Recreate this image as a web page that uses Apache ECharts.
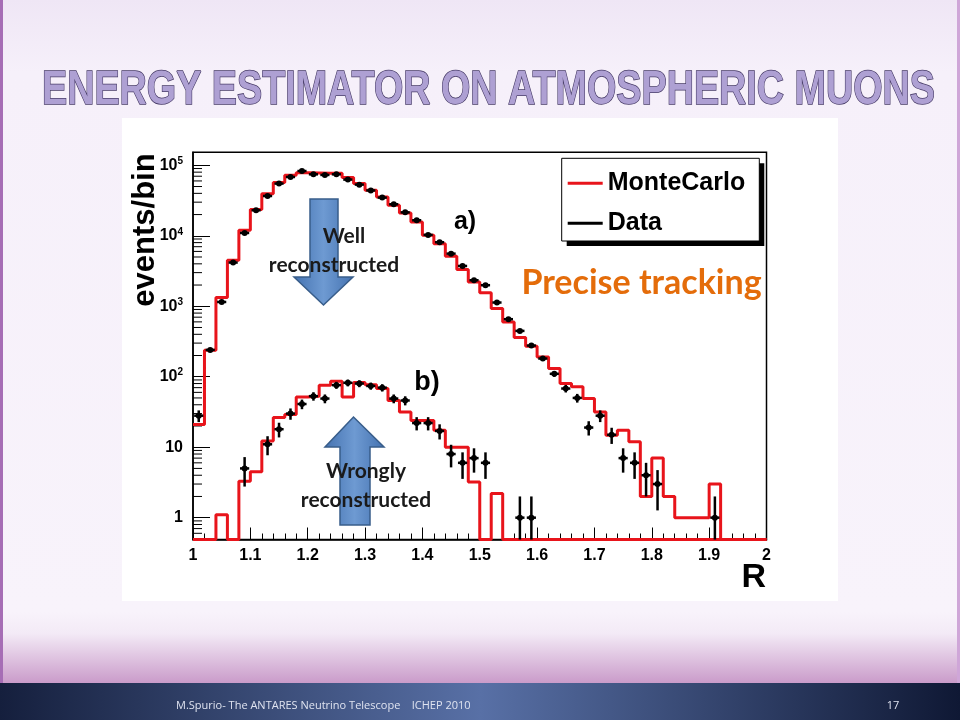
<!DOCTYPE html>
<html>
<head>
<meta charset="utf-8">
<script src="https://cdn.jsdelivr.net/npm/echarts@6/dist/echarts.min.js"></script>
<style>
html,body{margin:0;padding:0;background:#f5eff9;}
#chart{width:960px;height:720px;}
</style>
</head>
<body>
<div id="chart"></div>
<script>
// ---- data ----
const rLow = [1.00,1.02,1.04,1.06,1.08,1.10,1.12,1.14,1.16,1.18,
              1.20,1.22,1.24,1.26,1.28,1.30,1.32,1.34,1.36,1.38,
              1.40,1.42,1.44,1.46,1.48,1.50,1.52,1.54,1.56,1.58,
              1.60,1.62,1.64,1.66,1.68,1.70,1.72,1.74,1.76,1.78,
              1.80,1.82,1.84,1.86,1.88,1.90,1.92,1.94,1.96,1.98];
const R_MAX = 2.0;
const BIN_HALF = 0.01;
// a) well reconstructed
const mcA = [21,238,1330,4490,11970,23540,39650,56900,72100,78700,
             78000,77000,77000,66900,55000,44200,35500,27100,21000,15700,
             10200,7740,5110,3310,2210,1560,927,599,360,271,
             191,131,80,72,49,31.6,14.8,17.4,11.9,2,
             7,2,1,1,1,3,0,0,0,0];
const dataA = [28,240,1150,4170,10970,23000,36700,55000,68300,83000,
               74500,73000,74500,62700,53200,44000,34800,28000,21500,16600,
               10300,8100,5580,3730,2340,1990,1130,655,447,277,
               181,110,68,50,19,28,15,7,6,4,
               3,0,0,0,0,1,0,0,0,0];
// b) wrongly reconstructed
const mcB = [0,0,1.1,0,3.3,4.5,12.2,26.4,29,51.6,
             52.8,75.7,86,51.6,82.7,77,68,46,31.7,24,
             24,17.4,10,10,3.2,0,2.2,0,0,0,
             0,0,0,0,0,0,0,0,0,0,
             0,0,0,0,0,0,0,0,0,0];
const dataB = [0,0,0,0,5,0,11,18,30,41,
               53,49,76,82,80,74,70,49,46,22,
               22,17,8,6,7,6,0,0,1,1,
               0,0,0,0,0,0,0,0,0,0,
               0,0,0,0,0,0,0,0,0,0];
const xTicks = ['1','1.1','1.2','1.3','1.4','1.5','1.6','1.7','1.8','1.9','2'];
const Y_MIN = 0.49, Y_MAX = 153000;
const TITLE = 'ENERGY ESTIMATOR ON ATMOSPHERIC MUONS';

// ---- helpers ----
function histLine(vals){
  const pts = vals.map((v,i)=>[rLow[i], v>0 ? v : Y_MIN]);
  const last = vals[vals.length-1];
  pts.push([R_MAX, last>0 ? last : Y_MIN]);
  return pts;
}
function points(vals){
  const out=[];
  vals.forEach((v,i)=>{ if(v>0) out.push([rLow[i]+BIN_HALF, v]); });
  return out;
}
const minorVals=[];
for(let e=-1;e<=5;e++){ for(let m=2;m<=9;m++){ const v=m*Math.pow(10,e); if(v>Y_MIN && v<Y_MAX) minorVals.push([1,v]); } }

function renderData(params, api){
  const c = api.value(0), n = api.value(1);
  const e = Math.sqrt(n);
  const lo = Math.max(n - e, Y_MIN);
  const pm = api.coord([c, n]);
  const pt = api.coord([c, n + e]);
  const pb = api.coord([c, lo]);
  const pl = api.coord([c - 0.008, n]);
  const pr = api.coord([c + 0.008, n]);
  return {type:'group', children:[
    {type:'line', shape:{x1:pm[0],y1:pt[1],x2:pm[0],y2:pb[1]}, style:{stroke:'#000',lineWidth:2.5}},
    {type:'line', shape:{x1:pl[0],y1:pm[1],x2:pr[0],y2:pm[1]}, style:{stroke:'#000',lineWidth:2.5}},
    {type:'circle', shape:{cx:pm[0],cy:pm[1],r:3}, style:{fill:'#000'}}
  ]};
}
function renderMinor(params, api){
  const p = api.coord([api.value(0), api.value(1)]);
  return {type:'line', shape:{x1:p[0],y1:p[1],x2:p[0]+9,y2:p[1]}, style:{stroke:'#000',lineWidth:1}};
}

// title horizontal compression to match the condensed slide font
const TITLE_FONT = "bold 48px 'Liberation Sans', Arial, sans-serif";
const mctx = document.createElement('canvas').getContext('2d');
mctx.font = TITLE_FONT;
const titleScale = 893 / mctx.measureText(TITLE).width;

const RED = '#e8141b';
const F = "'Liberation Sans', Arial, sans-serif";
const chart = echarts.init(document.getElementById('chart'));
const arrowFill = {type:'linear',x:0,y:0,x2:1,y2:0,colorStops:[{offset:0,color:'#4472b0'},{offset:0.5,color:'#6e9ad2'},{offset:1,color:'#4472b0'}]};
const CAL = "Lato, 'Open Sans', sans-serif";

chart.setOption({
  backgroundColor:'#f5eff9',
  animation:false,
  grid:{left:193,right:193.5,top:152.3,bottom:180.5,show:true,borderColor:'#000',borderWidth:1.5,backgroundColor:'#fff',outerBoundsMode:'none'},
  legend:{
    left:561.7, top:158.3, orient:'vertical', selectedMode:false, z:5,
    padding:[12,9,7,6], itemGap:14, itemWidth:35, itemHeight:3,
    textStyle:{fontFamily:F,fontWeight:'bold',fontSize:25,color:'#000',lineHeight:26},
    data:[{name:'MonteCarlo',icon:'rect'},{name:'Data',icon:'rect'}]
  },
  xAxis:{
    type:'value', min:1, max:2, interval:0.1,
    axisLine:{show:true,lineStyle:{color:'#000',width:1.5}},
    axisTick:{show:true,inside:true,length:12,lineStyle:{color:'#000',width:1}},
    minorTick:{show:true,splitNumber:5,length:6,lineStyle:{color:'#000',width:1}},
    splitLine:{show:false},
    axisLabel:{color:'#000',fontFamily:F,fontWeight:'bold',fontSize:16,margin:8,
      formatter:(v)=>xTicks[Math.round((v-1)*10)] || ''}
  },
  yAxis:{
    type:'log', logBase:10, min:Y_MIN, max:Y_MAX,
    axisLine:{show:true,lineStyle:{color:'#000',width:1.5}},
    axisTick:{show:true,inside:true,length:17,lineStyle:{color:'#000',width:1}},
    splitLine:{show:false},
    axisLabel:{showMinLabel:false,showMaxLabel:false,margin:10,color:'#000',
      formatter:function(v){
        const n=Math.round(Math.log10(v));
        if(Math.abs(v-Math.pow(10,n))/v>1e-6) return '';
        if(n===0) return '{b|1}';
        if(n===1) return '{b|10}';
        return '{b|10}{s|'+n+'}';
      },
      rich:{b:{fontFamily:F,fontWeight:'bold',fontSize:16,color:'#000',lineHeight:18},
            s:{fontFamily:F,fontWeight:'bold',fontSize:10,color:'#000',verticalAlign:'top',lineHeight:18,padding:[0,0,8,0]}}
    }
  },
  series:[
    {name:'minor',type:'custom',silent:true,renderItem:renderMinor,data:minorVals,z:3},
    {name:'MonteCarlo',type:'line',step:'end',data:histLine(mcA),showSymbol:false,symbol:'none',clip:false,
      lineStyle:{color:RED,width:3},itemStyle:{color:RED},z:4},
    {name:'MonteCarlo',type:'line',step:'end',data:histLine(mcB),showSymbol:false,symbol:'none',clip:false,
      lineStyle:{color:RED,width:3},itemStyle:{color:RED},z:4},
    {name:'Data',type:'custom',renderItem:renderData,data:points(dataA),itemStyle:{color:'#000'},z:5},
    {name:'Data',type:'custom',renderItem:renderData,data:points(dataB),itemStyle:{color:'#000'},z:5}
  ],
  graphic:[
    // slide decoration
    {type:'rect',z:-20,shape:{x:0,y:0,width:960,height:720},style:{fill:{type:'linear',x:0,y:0,x2:0,y2:1,colorStops:[{offset:0,color:'#efe6f5'},{offset:0.1,color:'#f6f0fa'},{offset:0.85,color:'#f8f3fb'},{offset:0.88,color:'#f3eaf6'},{offset:0.95,color:'#c99ac9'},{offset:1,color:'#c48cc3'}]}}},
    {type:'rect',z:-19,shape:{x:0,y:0,width:3,height:683},style:{fill:'#a66db5'}},
    {type:'rect',z:-19,shape:{x:957,y:0,width:3,height:683},style:{fill:'#cfa6d8'}},
    {type:'rect',z:-19,shape:{x:0,y:683,width:960,height:37},style:{fill:{type:'linear',x:0,y:0,x2:1,y2:0,colorStops:[{offset:0,color:'#151f3d'},{offset:0.5,color:'#5870a6'},{offset:1,color:'#0f1834'}]}}},
    {type:'rect',z:-18,shape:{x:122,y:118,width:716,height:483},style:{fill:'#ffffff'}},
    {type:'text',z:10,x:176,y:706,style:{text:'M.Spurio- The ANTARES Neutrino Telescope    ICHEP 2010',font:"11px 'Open Sans', sans-serif",fill:'#dfe3f0',verticalAlign:'middle'}},
    {type:'text',z:10,x:893,y:706,style:{text:'17',font:"11px 'Open Sans', sans-serif",fill:'#dfe3f0',align:'center',verticalAlign:'middle'}},
    // title
    {type:'text',z:10,x:488.5,y:91,scaleX:titleScale,style:{text:TITLE,font:TITLE_FONT,fill:'#ae a0d3'.replace(' ',''),stroke:'#463a66',lineWidth:1.5,align:'center',verticalAlign:'middle'}},
    // legend frame with ROOT-style shadow
    {type:'rect',z:3,shape:{x:566.7,y:163.3,width:197.6,height:82.7},style:{fill:'#000'}},
    {type:'rect',z:3,shape:{x:561.7,y:158.3,width:197.6,height:82.7},style:{fill:'#fff',stroke:'#000',lineWidth:1}},
    // axis titles
    {type:'text',z:10,x:145,y:230,rotation:Math.PI/2,style:{text:'events/bin',font:"bold 31px 'Liberation Sans', Arial, sans-serif",fill:'#000',align:'center',verticalAlign:'middle'}},
    {type:'text',z:10,x:766,y:578,style:{text:'R',font:"bold 34px 'Liberation Sans', Arial, sans-serif",fill:'#000',align:'right',verticalAlign:'middle'}},
    // labels
    {type:'text',z:10,x:465,y:222,style:{text:'a)',font:"bold 25px 'Liberation Sans', Arial, sans-serif",fill:'#000',align:'center',verticalAlign:'middle'}},
    {type:'text',z:10,x:427,y:383,style:{text:'b)',font:"bold 27px 'Liberation Sans', Arial, sans-serif",fill:'#000',align:'center',verticalAlign:'middle'}},
    {type:'text',z:10,x:641.5,y:283,style:{text:'Precise tracking',font:"bold 34px "+CAL,fill:'#e46c0a',align:'center',verticalAlign:'middle'}},
    // arrows
    {type:'polygon',z:8,shape:{points:[[310,199],[338,199],[338,277],[353,277],[323.5,305],[294,277],[310,277]]},style:{fill:arrowFill,stroke:'#385d8a',lineWidth:1.5}},
    {type:'polygon',z:8,shape:{points:[[340,525],[370,525],[370,447],[384,447],[353.5,417],[325,447],[340,447]]},style:{fill:arrowFill,stroke:'#385d8a',lineWidth:1.5}},
    {type:'text',z:10,x:344,y:236,style:{text:'Well',font:"bold 21px "+CAL,fill:'#1a1a1a',align:'center',verticalAlign:'middle'}},
    {type:'text',z:10,x:334,y:265,style:{text:'reconstructed',font:"bold 21px "+CAL,fill:'#1a1a1a',align:'center',verticalAlign:'middle'}},
    {type:'text',z:10,x:366,y:471,style:{text:'Wrongly',font:"bold 21px "+CAL,fill:'#1a1a1a',align:'center',verticalAlign:'middle'}},
    {type:'text',z:10,x:366,y:500,style:{text:'reconstructed',font:"bold 21px "+CAL,fill:'#1a1a1a',align:'center',verticalAlign:'middle'}}
  ]
});
</script>
</body>
</html>
